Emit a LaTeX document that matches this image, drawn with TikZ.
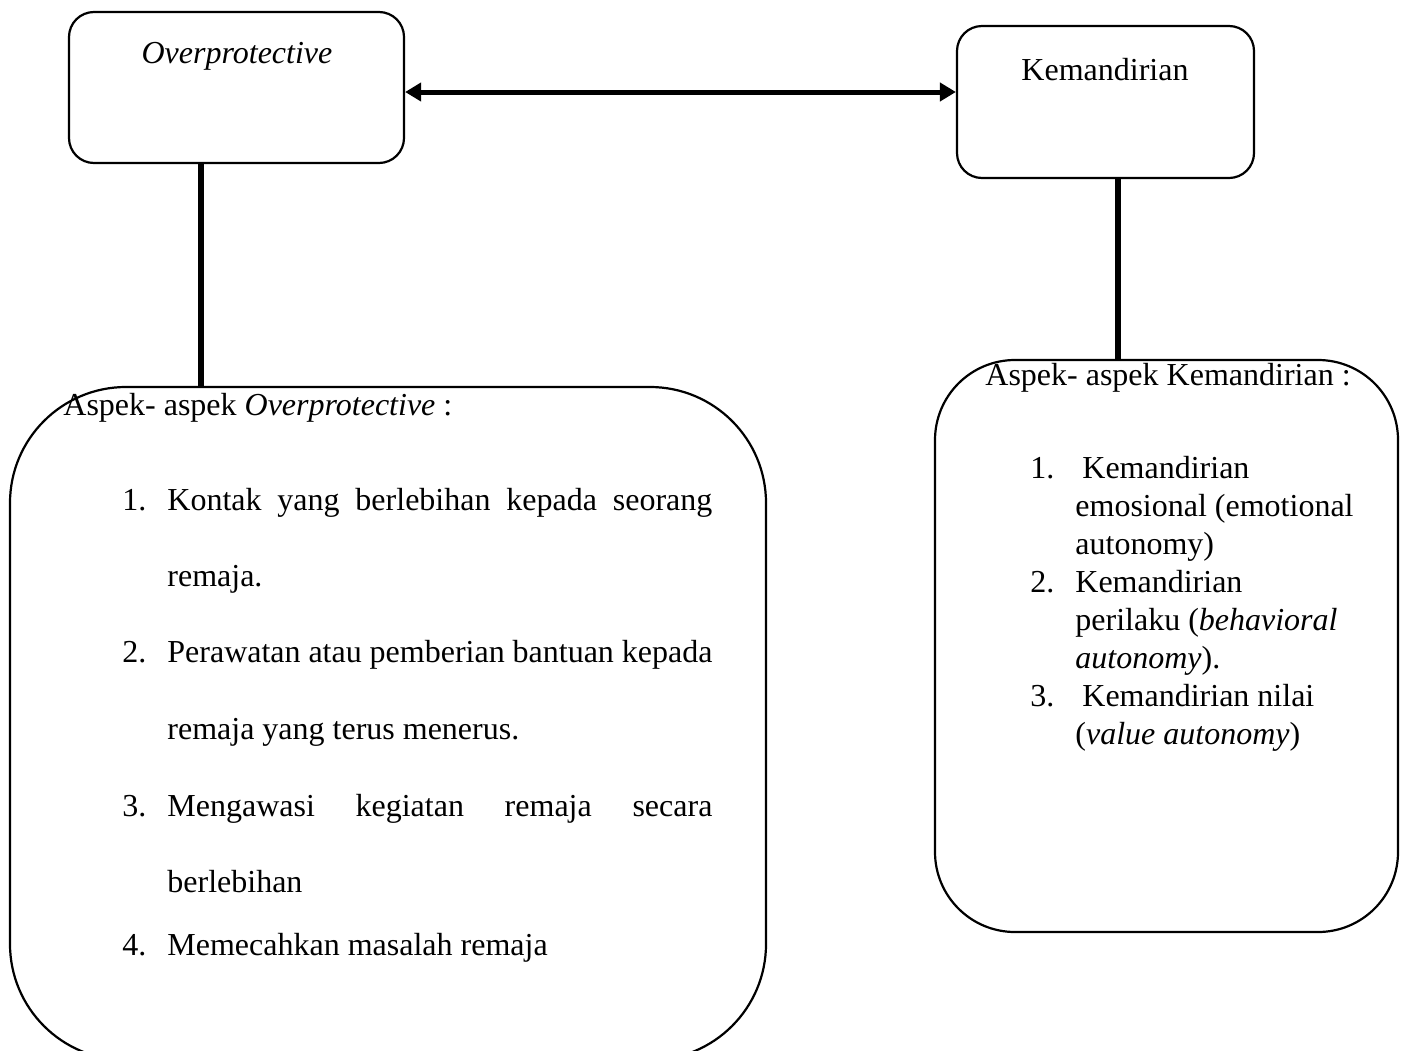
\documentclass[tikz,border=0pt]{standalone}
\usepackage{fontspec}
\setmainfont{Liberation Serif}
\usetikzlibrary{arrows.meta,fit}
\begin{document}
\begin{tikzpicture}[x=0.5pt,y=-0.5pt,
  box/.style={draw,line width=1.1pt,inner sep=0pt},
  link/.style={line width=3pt},
  twoway/.style={line width=2.5pt,{Triangle[length=8pt,width=9pt]}-{Triangle[length=8pt,width=9pt]}},
  txt/.style={anchor=base west,inner sep=0pt,font=\fontsize{16pt}{19pt}\selectfont},
  ctxt/.style={anchor=base,inner sep=0pt,font=\fontsize{16pt}{19pt}\selectfont}]
\useasboundingbox (0,0) rectangle (1406,1050);
\clip (0,0) rectangle (1406,1050);
% boxes
\node[box,rounded corners=12.5pt,fit={(69,12)(404,163)}] (op) {};
\node[box,rounded corners=12.5pt,fit={(957,26)(1254,178)}] (km) {};
\node[box,rounded corners=58pt,fit={(10,387)(766,1060)}] (ob) {};
\node[box,rounded corners=40pt,fit={(935,360)(1398,932)}] (kb) {};
% titles
\node[ctxt] (opt) at (237,63) {\textit{Overprotective}};
\node[ctxt] (kmt) at (1105,80) {Kemandirian};
% connectors
\coordinate (ay) at (0,92);
\coordinate (lx) at (201,0);
\coordinate (rx) at (1118,0);
\draw[twoway] (op.east |- ay) -- (km.west |- ay);
\draw[link] (op.south -| lx) -- (ob.north -| lx);
\draw[link] (km.south -| rx) -- (kb.north -| rx);
% left box text
\node[txt] (oh) at (63,415) {Aspek- aspek \textit{Overprotective} :};
\node[txt] (o1n) at (122,510) {1.};
\node[txt] (o1a) at (167,510) {\makebox[272.5pt][s]{Kontak yang berlebihan kepada seorang}};
\node[txt] (o1b) at (167,586) {remaja.};
\node[txt] (o2n) at (122,662) {2.};
\node[txt] (o2a) at (167,662) {\makebox[272.5pt][s]{Perawatan atau pemberian bantuan kepada}};
\node[txt] (o2b) at (167,739) {remaja yang terus menerus.};
\node[txt] (o3n) at (122,816) {3.};
\node[txt] (o3a) at (167,816) {\makebox[272.5pt][s]{Mengawasi kegiatan remaja secara}};
\node[txt] (o3b) at (167,892) {berlebihan};
\node[txt] (o4n) at (122,955) {4.};
\node[txt] (o4a) at (167,955) {Memecahkan masalah remaja};
% right box text
\node[txt] (kh) at (985,385) {Aspek- aspek Kemandirian :};
\node[txt] (k1n) at (1030,478) {1.};
\node[txt] (k1a) at (1082,478) {Kemandirian};
\node[txt] (k1b) at (1075,516) {emosional (emotional};
\node[txt] (k1c) at (1075,554) {autonomy)};
\node[txt] (k2n) at (1030,592) {2.};
\node[txt] (k2a) at (1075,592) {Kemandirian};
\node[txt] (k2b) at (1075,630) {perilaku (\textit{behavioral}};
\node[txt] (k2c) at (1075,668) {\textit{autonomy}).};
\node[txt] (k3n) at (1030,706) {3.};
\node[txt] (k3a) at (1082,706) {Kemandirian nilai};
\node[txt] (k3b) at (1075,744) {(\textit{value autonomy})};
\end{tikzpicture}
\end{document}
